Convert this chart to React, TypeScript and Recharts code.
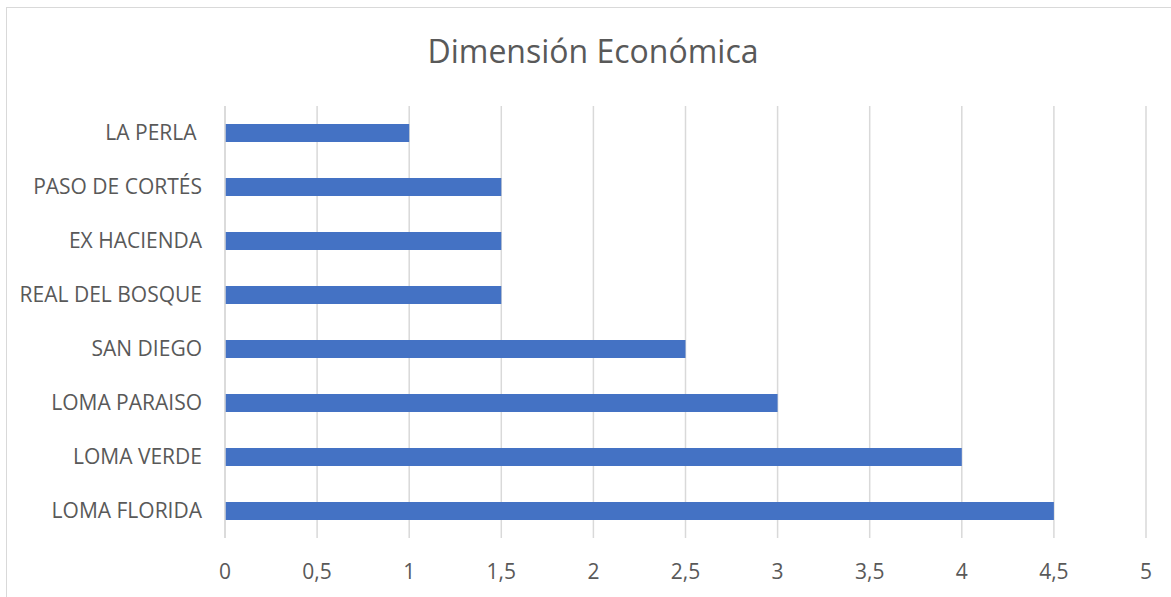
import React from 'react';
import { BarChart, Bar, XAxis, YAxis, CartesianGrid } from 'recharts';

const barrios = [
  'LA PERLA ',
  'PASO DE CORTÉS',
  'EX HACIENDA',
  'REAL DEL BOSQUE',
  'SAN DIEGO',
  'LOMA PARAISO',
  'LOMA VERDE',
  'LOMA FLORIDA',
];
const puntajes = [1, 1.5, 1.5, 1.5, 2.5, 3, 4, 4.5];
const xTicks = [0, 0.5, 1, 1.5, 2, 2.5, 3, 3.5, 4, 4.5, 5];

const data = barrios.map((nombre, i) => ({ nombre, valor: puntajes[i] }));

const FONT = '"Open Sans", sans-serif';
const TEXT = '#595959';
const GRID = '#d9d9d9';

const App: React.FC = () => {
  return (
    <div style={{ position: 'absolute', left: 0, top: 0, width: 1171, height: 597, background: '#fff', overflow: 'hidden' }}>
      {/* chart frame, cut off on the right and bottom */}
      <div style={{ position: 'absolute', left: 6, top: 7, width: 1200, height: 620, border: `1px solid ${GRID}` }} />
      <svg style={{ position: 'absolute', left: 0, top: 0 }} width={1171} height={597}>
        <text x={593} y={63} textAnchor="middle" fontFamily={FONT} fontSize={32} fill={TEXT}>
          Dimensión Económica
        </text>
      </svg>
      <div style={{ position: 'absolute', left: 0, top: 0 }}>
        <BarChart
          width={1171}
          height={597}
          data={data}
          layout="vertical"
          margin={{ top: 106, right: 25, bottom: 29, left: 10 }}
        >
          <CartesianGrid horizontal={false} stroke={GRID} strokeWidth={1.5} />
          <XAxis
            type="number"
            domain={[0, 5]}
            ticks={xTicks}
            interval={0}
            height={30}
            axisLine={false}
            tickLine={false}
            tickMargin={20}
            tick={{ fill: TEXT, fontSize: 21, fontFamily: FONT }}
            tickFormatter={(v: number) => String(v).replace('.', ',')}
          />
          <YAxis
            type="category"
            dataKey="nombre"
            width={215}
            axisLine={{ stroke: GRID, strokeWidth: 1.5 }}
            tickLine={false}
            tickMargin={17}
            interval={0}
            tick={{ fill: TEXT, fontSize: 21, fontFamily: FONT }}
            tickFormatter={(v: string) => v.replace(/ $/, '\u00A0')}
          />
          <Bar dataKey="valor" fill="#4472C4" barSize={18} isAnimationActive={false} />
        </BarChart>
      </div>
    </div>
  );
};

export default App;
